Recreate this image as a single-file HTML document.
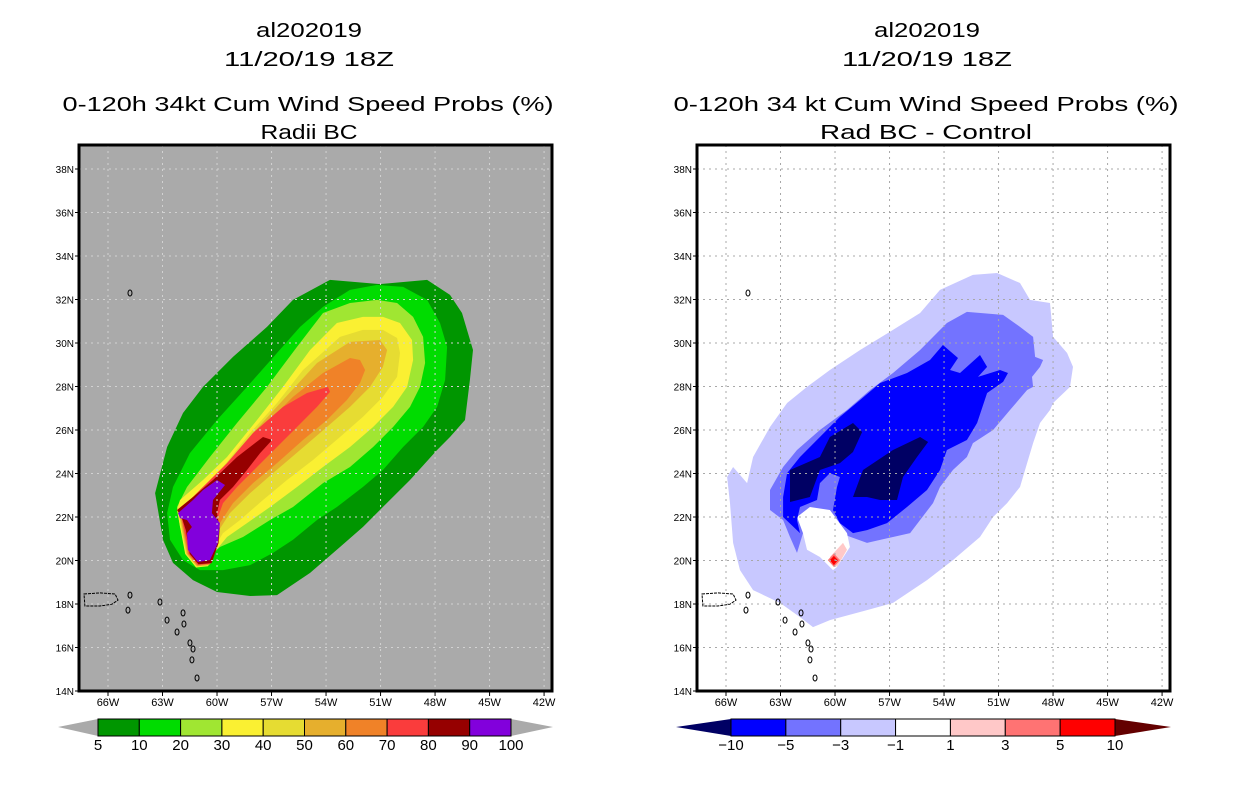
<!DOCTYPE html>
<html><head><meta charset="utf-8"><style>
html,body{margin:0;padding:0;background:#fff;}
svg{display:block;font-family:"Liberation Sans",sans-serif;}
</style></head><body>
<svg id="root" width="1236" height="800" viewBox="0 0 1236 800" xmlns="http://www.w3.org/2000/svg">
<defs>
<clipPath id="clipL"><rect x="79" y="145" width="473" height="546"/></clipPath>
<clipPath id="clipR"><rect x="697" y="145" width="472" height="546"/></clipPath>
</defs>
<g font-size="20" text-anchor="middle" fill="#000">
<text x="309" y="37" textLength="106" lengthAdjust="spacingAndGlyphs">al202019</text>
<text x="309" y="66" textLength="170" lengthAdjust="spacingAndGlyphs">11/20/19 18Z</text>
<text x="308" y="111" textLength="491" lengthAdjust="spacingAndGlyphs">0-120h 34kt Cum Wind Speed Probs (%)</text>
<text x="309" y="139" textLength="97" lengthAdjust="spacingAndGlyphs">Radii BC</text>
</g>
<g font-size="20" text-anchor="middle" fill="#000">
<text x="927" y="37" textLength="106" lengthAdjust="spacingAndGlyphs">al202019</text>
<text x="927" y="66" textLength="170" lengthAdjust="spacingAndGlyphs">11/20/19 18Z</text>
<text x="926" y="111" textLength="505" lengthAdjust="spacingAndGlyphs">0-120h 34 kt Cum Wind Speed Probs (%)</text>
<text x="926" y="139" textLength="212" lengthAdjust="spacingAndGlyphs">Rad BC - Control</text>
</g>
<rect x="79" y="145" width="473" height="546" fill="#aaaaaa"/>
<rect x="697" y="145" width="472" height="546" fill="#ffffff"/>
<g id="leftFill" clip-path="url(#clipL)"></g>
<g id="rightFill" clip-path="url(#clipR)"></g>
<g id="overlay"></g>
</svg>
<script>
// Axis tick values
const lonTicks = [66,63,60,57,54,51,48,45,42];
const latTicks = [14,16,18,20,22,24,26,28,30,32,34,36,38];
// Left panel: probability levels (%) and colours
const probLevels = [5,10,20,30,40,50,60,70,80,90,100];
const probColors = ["#009600","#00dc00","#a0e632","#faf032","#e6dc32","#e6af2d","#f08228","#fa3c3c","#960000","#8200dc"];
// Contour outlines as [lonW, latN]
const prob5 = [[53.78,32.9],[51.03,32.71],[48.44,32.9],[47.18,32.21],[46.52,31.38],[45.91,29.68],[46.08,28.3],[46.35,26.46],[47.18,25.68],[47.89,25.08],[49.38,23.7],[50.87,22.46],[51.97,21.54],[53.23,20.62],[54.88,19.43],[56.7,18.41],[58.18,18.37],[60.0,18.55],[61.32,19.1],[62.42,19.89],[62.97,20.94],[63.41,23.1],[62.75,25.22],[61.87,26.78],[60.77,27.98],[59.12,29.36],[57.25,30.74],[55.82,31.98]];
const prob10 = [[54.17,31.66],[52.68,32.44],[51.19,32.67],[49.76,32.58],[48.44,31.98],[47.73,30.92],[47.34,29.82],[47.45,28.3],[47.89,27.06],[48.66,26.14],[49.76,25.22],[50.87,24.16],[51.97,23.38],[53.4,22.46],[54.5,21.86],[55.82,20.95],[56.92,20.35],[58.18,19.79],[59.67,19.56],[60.94,19.56],[61.87,20.02],[62.59,20.95],[62.75,22.18],[62.42,23.38],[61.49,24.94],[60.0,26.46],[58.35,27.98],[56.7,29.54],[55.43,30.74]];
const prob20 = [[54.17,31.38],[52.68,31.84],[51.19,31.98],[50.09,31.84],[49.21,31.2],[48.66,30.28],[48.55,29.08],[48.83,27.98],[49.38,27.06],[50.31,26.14],[51.41,25.22],[52.68,24.3],[54.17,23.56],[55.82,22.46],[57.08,21.86],[58.57,21.08],[59.84,20.62],[60.77,19.9],[61.49,20.1],[62.04,21.54],[62.2,22.46],[61.65,23.38],[60.39,24.76],[58.9,26.32],[57.25,27.98],[55.6,29.82]];
const prob30 = [[53.4,30.92],[51.97,31.2],[50.87,31.2],[49.93,30.92],[49.27,30.14],[49.21,29.22],[49.54,27.98],[50.31,27.06],[51.41,26.14],[52.68,25.22],[54.17,24.3],[55.6,23.38],[57.08,22.46],[58.35,21.72],[59.45,21.08],[60.22,20.3],[60.5,19.74],[61.15,19.68],[61.75,20.3],[62.0,21.4],[62.2,22.32],[62.04,22.78],[60.77,23.7],[59.45,24.76],[57.8,26.46],[56.37,27.98],[54.88,29.68]];
const prob40 = [[53.23,30.28],[51.97,30.6],[50.87,30.6],[50.09,30.23],[49.93,29.54],[50.09,28.44],[50.87,27.52],[51.97,26.6],[53.23,25.68],[54.72,24.62],[56.15,23.7],[57.47,22.78],[58.73,21.86],[59.67,21.26],[60.3,20.4],[60.45,19.77],[61.12,19.71],[61.7,20.3],[61.95,21.4],[62.15,22.3],[60.94,23.01],[59.67,24.3],[58.18,25.86],[56.7,27.24],[55.27,28.76]];
const prob50 = [[52.68,30.05],[51.03,30.14],[50.64,29.68],[50.87,28.9],[51.58,27.98],[52.68,27.06],[53.95,26.14],[55.43,25.08],[56.92,24.02],[58.18,23.1],[59.29,22.18],[60.0,21.26],[60.3,20.4],[60.42,19.8],[61.1,19.74],[61.65,20.3],[61.9,21.4],[62.1,22.3],[60.77,23.1],[59.45,24.3],[58.02,25.86],[56.37,27.38],[54.5,29.08]];
const prob60 = [[52.68,29.31],[52.13,29.22],[51.85,28.76],[52.13,28.16],[52.85,27.38],[53.95,26.46],[55.27,25.54],[56.7,24.48],[58.02,23.56],[59.12,22.64],[59.84,21.72],[60.25,20.4],[60.38,19.83],[61.08,19.77],[61.6,20.3],[61.85,21.4],[62.05,22.3],[60.55,23.24],[59.12,24.62],[57.47,26.14],[55.82,27.52],[54.17,28.62]];
const prob70 = [[53.89,27.98],[53.78,27.75],[54.5,27.06],[55.6,26.14],[56.7,25.22],[57.8,24.3],[58.9,23.38],[59.67,22.64],[60.0,21.86],[60.2,20.4],[60.34,19.86],[61.05,19.8],[61.55,20.3],[61.8,21.4],[62.04,22.32],[60.94,23.24],[59.45,24.48],[58.02,25.86],[56.37,27.06],[55.05,27.7]];
const prob80 = [[57.47,25.68],[56.97,25.54],[57.63,24.94],[58.35,24.16],[59.12,23.38],[59.84,22.78],[60.0,22.18],[59.85,21.5],[59.92,20.8],[60.3,19.88],[61.02,19.83],[61.5,20.3],[61.72,21.4],[61.95,22.0],[62.2,22.32],[61.32,22.92],[60.22,23.7],[58.9,24.76]];
const prob90 = [[60.0,23.7],[59.56,23.47],[60.22,22.78],[60.28,22.18],[59.84,21.72],[59.95,20.81],[60.39,20.02],[61.05,19.93],[61.6,20.49],[61.65,21.26],[61.38,21.54],[61.65,21.86],[62.04,21.95],[62.15,22.18],[61.32,22.78],[60.77,23.24]];
const probContours = [prob5,prob10,prob20,prob30,prob40,prob50,prob60,prob70,prob80,prob90];
// Right panel: difference levels and colours
const diffLevels = [-10,-5,-3,-1,1,3,5,10];
const diffColors = ["#000064","#0000ff","#7373ff","#c8c8ff","#ffffff","#ffc8c8","#ff7373","#ff0000","#640000"];
const diffM1 = [[52.41,33.13],[51.08,33.22],[49.82,32.76],[49.27,31.98],[48.17,31.84],[48.0,30.28],[47.23,29.54],[46.9,28.9],[47.07,27.98],[48.0,27.24],[48.17,26.92],[48.72,26.32],[49.1,25.4],[49.43,24.48],[49.82,23.38],[50.53,22.64],[51.3,22.0],[52.02,21.08],[53.51,20.02],[54.94,19.1],[56.81,18.05],[58.24,17.72],[60.28,17.26],[61.21,16.94],[61.93,17.4],[63.03,18.05],[64.51,18.64],[65.23,19.56],[65.61,20.81],[65.78,22.64],[65.94,23.84],[65.61,24.3],[64.84,23.56],[64.51,24.76],[63.58,26.14],[62.64,27.24],[61.54,27.98],[60.28,28.76],[58.62,29.68],[56.81,30.6],[55.32,31.38],[54.22,32.44]];
const diffM3 = [[52.74,31.43],[50.75,31.29],[49.82,30.74],[49.1,30.28],[48.99,29.36],[48.55,29.22],[48.72,28.9],[49.16,28.44],[49.1,27.98],[49.43,27.84],[50.37,26.92],[51.3,26.0],[52.41,25.4],[52.74,24.76],[53.51,24.16],[54.22,23.38],[54.61,22.64],[55.32,21.86],[55.87,21.26],[56.81,21.08],[58.24,20.81],[59.73,21.26],[60.83,21.72],[61.76,22.0],[61.76,21.26],[62.09,20.35],[62.48,21.08],[62.86,21.86],[63.58,22.32],[63.58,23.24],[62.86,24.3],[62.09,25.08],[60.83,26.0],[59.34,26.92],[58.07,27.84],[56.81,28.62],[55.32,29.68],[53.84,30.92]];
const diffHole = [[62.09,22.0],[61.38,22.46],[60.28,22.32],[59.34,21.26],[59.18,20.62],[59.89,19.7],[60.11,19.56],[60.83,20.16],[61.54,20.49],[61.76,21.26]];
const diffM5 = [[54.06,29.91],[53.23,29.31],[53.67,28.76],[53.12,28.62],[52.02,29.45],[51.63,28.9],[52.13,28.44],[50.92,28.76],[50.48,28.62],[50.75,28.21],[51.63,27.7],[52.18,26.32],[52.74,25.54],[53.84,25.08],[54.22,24.16],[54.94,23.24],[56.04,22.46],[57.14,21.72],[58.24,21.4],[59.01,21.26],[59.73,21.72],[60.11,22.32],[59.89,23.38],[59.73,23.84],[60.28,24.02],[60.83,23.56],[60.99,22.78],[61.93,22.46],[62.09,21.86],[61.93,21.26],[62.86,22.0],[62.86,22.92],[62.64,24.02],[61.93,24.76],[60.83,25.68],[59.73,26.6],[58.62,27.38],[57.52,28.16],[56.04,28.62],[54.77,29.22]];
const diffM10a = [[62.48,24.16],[60.83,24.76],[60.28,25.68],[59.01,26.32],[58.51,25.91],[59.01,24.99],[59.73,24.48],[60.83,24.16],[61.38,22.92],[62.48,22.69]];
const diffM10b = [[59.01,22.92],[58.46,24.16],[56.81,25.08],[55.32,25.68],[54.88,25.45],[55.49,24.76],[56.26,23.84],[56.59,22.78],[57.52,22.78],[58.24,22.92]];
const diffP1 = [[60.28,20.16],[59.56,20.81],[59.34,20.49],[59.89,19.7]];
const diffP3 = [[60.06,20.32],[59.72,20.02],[60.06,19.7],[60.4,20.02]];
const diffP5 = [[60.06,20.21],[59.84,20.02],[60.06,19.79],[60.28,20.02]];
const diffContours = [diffM1,diffM3,diffHole,diffM5,diffM10a,diffM10b,diffP1,diffP3,diffP5];
const diffContourColors = ["#c8c8ff","#7373ff","#ffffff","#0000ff","#000064","#000064","#ffc8c8","#ff7373","#ff0000"];
// Coastline features [lonW, latN]
const puertoRico = [[67.32,18.46],[66.44,18.51],[65.61,18.46],[65.45,18.18],[65.78,17.99],[66.44,17.91],[67.27,17.91]];
const islands = [[63.14,18.09],[62.75,17.26],[62.2,16.71],[61.87,17.59],[61.82,17.08],[61.49,16.21],[61.32,15.93],[61.38,15.43],[61.1,14.6],[64.9,17.72],[64.79,18.41],[64.79,32.3]];

const NS = "http://www.w3.org/2000/svg";
const PAN = [0, 618];
function xOf(lonW, p){ return 79 + PAN[p] + 29 + (66 - lonW) * 18.17; }
function yOf(lat){ return 691 - (lat - 14) * 21.75; }
function mk(tag, attrs, parent){ const e = document.createElementNS(NS, tag); for (const k in attrs) e.setAttribute(k, attrs[k]); parent.appendChild(e); return e; }
function ptsOf(poly, p){ return poly.map(d => xOf(d[0], p).toFixed(1) + "," + yOf(d[1]).toFixed(1)).join(" "); }

const leftG = document.getElementById("leftFill");
probContours.forEach((poly, i) => {
  const e = mk("polygon", {points: ptsOf(poly, 0), fill: probColors[i]}, leftG);
  
  
});
const rightG = document.getElementById("rightFill");
diffContours.forEach((poly, i) => {
  const e = mk("polygon", {points: ptsOf(poly, 1), fill: diffContourColors[i]}, rightG);
  
  
});

const ov = document.getElementById("overlay");
[0,1].forEach(p => {
  const g = mk("g", {}, p === 0 ? leftG : rightG);
  
  
  const gc = p === 0 ? "#d2d2d2" : "#a8a8a8";
  lonTicks.forEach(l => {
    const x = xOf(l, p);
    const ln = mk("line", {x1: x, x2: x, y1: 145, y2: 691, stroke: gc, "stroke-width": 1, "stroke-dasharray": "2,4"}, g);
    
    
  });
  latTicks.slice(1).forEach(l => {
    const y = yOf(l);
    const ln = mk("line", {x1: 79 + PAN[p], x2: 552 + PAN[p], y1: y, y2: y, stroke: gc, "stroke-width": 1, "stroke-dasharray": "2,4"}, g);
    
    
  });
  // coastlines
  const cg = mk("g", {fill: "none", stroke: "#000", "stroke-width": 1}, p === 0 ? leftG : rightG);
  
  
  const pr = mk("polygon", {points: ptsOf(puertoRico, p), "stroke-dasharray": "3,1"}, cg);
  
  
  islands.forEach(d => {
    const e = mk("ellipse", {cx: xOf(d[0], p), cy: yOf(d[1]), rx: 2, ry: 3}, cg);
    
    
  });
  // frame
  const fr = mk("rect", {x: 79 + PAN[p], y: 145, width: 473, height: 546, fill: "none", stroke: "#000", "stroke-width": 3}, ov);
  
  
  lonTicks.forEach(l => {
    const x = xOf(l, p);
    const t = mk("line", {x1: x, x2: x, y1: 691, y2: 696, stroke: "#000", "stroke-width": 1}, ov);
    
    
    const tx = mk("text", {x: x, y: 706, "font-size": 11, "text-anchor": "middle"}, ov);
    tx.textContent = l + "W";
    
    
  });
  latTicks.forEach(l => {
    const y = yOf(l);
    const t = mk("line", {x1: 75 + PAN[p], x2: 79 + PAN[p], y1: y, y2: y, stroke: "#000", "stroke-width": 1}, ov);
    
    
    const tx = mk("text", {x: 74 + PAN[p], y: y + 4, "font-size": 10, "text-anchor": "end"}, ov);
    tx.textContent = l + "N";
    
    
  });
});

// Left colour bar
const cbL = mk("g", {}, ov);


const bwL = (511 - 98) / (probLevels.length - 1);
const triL1 = mk("polygon", {points: "58,727 98,719 98,736", fill: "#aaaaaa"}, cbL);


const triL2 = mk("polygon", {points: "553,727 511,719 511,736", fill: "#aaaaaa"}, cbL);


probColors.forEach((c, i) => {
  const r = mk("rect", {x: 98 + i * bwL, y: 719, width: bwL, height: 17, fill: c, stroke: "#000", "stroke-width": 1}, cbL);
  
  
});
probLevels.forEach((v, i) => {
  const t = mk("text", {x: 98 + i * bwL, y: 750, "font-size": 15, "text-anchor": "middle"}, cbL);
  t.textContent = v;
  
  
});
// Right colour bar
const cbR = mk("g", {}, ov);


const bwR = (1115 - 731) / (diffLevels.length - 1);
const triR1 = mk("polygon", {points: "676,727 731,719 731,736", fill: diffColors[0]}, cbR);


const triR2 = mk("polygon", {points: "1171,727 1115,719 1115,736", fill: diffColors[8]}, cbR);


for (let i = 0; i < diffLevels.length - 1; i++) {
  const r = mk("rect", {x: 731 + i * bwR, y: 719, width: bwR, height: 17, fill: diffColors[i + 1], stroke: "#000", "stroke-width": 1}, cbR);
  
  
}
diffLevels.forEach((v, i) => {
  const t = mk("text", {x: 731 + i * bwR, y: 750, "font-size": 15, "text-anchor": "middle"}, cbR);
  t.textContent = v < 0 ? "\u2212" + (-v) : v;
  
  
});
</script>
</body></html>
